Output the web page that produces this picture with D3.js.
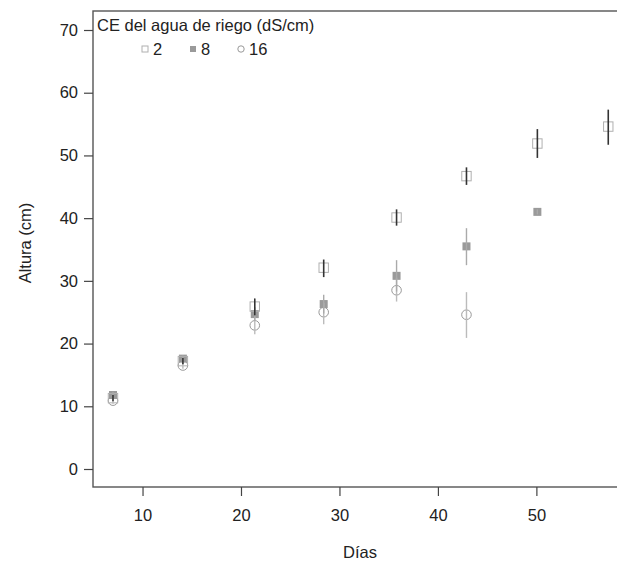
<!DOCTYPE html>
<html><head><meta charset="utf-8">
<script src="https://cdn.jsdelivr.net/npm/d3@7"></script>
<style>body{margin:0;background:#fff;overflow:hidden}svg{display:block}</style>
</head><body>
<svg id="c" width="617" height="563"></svg>
<script>
// Data
const days = [7, 14.1, 21.4, 28.4, 35.8, 42.9, 50.1, 57.3];
const ce2    = [11.3, 17.2, 25.9, 32.1, 40.1, 46.7, 51.9, 54.6];
const ce2Lo  = [10.8, 16.7, 24.5, 30.6, 38.8, 45.3, 49.6, 51.7];
const ce2Hi  = [11.8, 17.7, 27.2, 33.4, 41.4, 48.1, 54.2, 57.3];
const ce8    = [11.8, 17.6, 24.7, 26.3, 30.8, 35.5, 41.0, null];
const ce8Lo  = [11.3, 17.1, 23.6, 24.8, 28.3, 32.5, 40.6, null];
const ce8Hi  = [12.3, 18.1, 25.8, 27.8, 33.3, 38.4, 41.4, null];
const ce16   = [10.9, 16.5, 22.9, 25.0, 28.5, 24.6, null, null];
const ce16Lo = [10.4, 16.0, 21.5, 23.1, 26.7, 20.9, null, null];
const ce16Hi = [11.4, 17.0, 24.3, 26.5, 30.5, 28.2, null, null];
const xTicks = [10, 20, 30, 40, 50];
const yTicks = [0, 10, 20, 30, 40, 50, 60, 70];
const legendTitle = "CE del agua de riego (dS/cm)";
const legendLabels = ["2", "8", "16"];

const svg = d3.select("#c");
const font = "'Liberation Sans', Arial, sans-serif";
const fs = "16.5px";
const x = d3.scaleLinear().domain([4.97, 59.0]).range([93, 625]);
const y = d3.scaleLinear().domain([-2.87, 73.03]).range([487, 11]);

// box
svg.append("rect").attr("x", 93).attr("y", 11).attr("width", 532).attr("height", 476)
  .attr("fill", "none").attr("stroke", "#555").attr("stroke-width", 1.4);

// axes
const xa = svg.append("g").attr("transform", "translate(0,487)")
  .call(d3.axisBottom(x).tickValues(xTicks).tickSize(9).tickPadding(13).tickFormat(d3.format("d")));
const ya = svg.append("g").attr("transform", "translate(93,0)")
  .call(d3.axisLeft(y).tickValues(yTicks).tickSize(9).tickPadding(6).tickFormat(d3.format("d")));
[xa, ya].forEach(g => {
  g.select(".domain").remove();
  g.selectAll(".tick line").attr("stroke", "#444").attr("stroke-width", 1.2);
  g.selectAll(".tick text").attr("fill", "#222").style("font-family", font).style("font-size", fs);
});

svg.append("text").attr("x", 360).attr("y", 558).attr("text-anchor", "middle")
  .style("font-family", font).style("font-size", fs).attr("fill", "#222").text("Días");
svg.append("text").attr("transform", "translate(31,243) rotate(-90)").attr("text-anchor", "middle")
  .style("font-family", font).style("font-size", fs).attr("fill", "#222").text("Altura (cm)");

// series
const series = [
  {v: ce2, lo: ce2Lo, hi: ce2Hi, shape: "osq", bar: "#333", barW: 1.6},
  {v: ce8, lo: ce8Lo, hi: ce8Hi, shape: "fsq", bar: "#aaa", barW: 1.4},
  {v: ce16, lo: ce16Lo, hi: ce16Hi, shape: "circ", bar: "#bbb", barW: 1.4}
];
function drawSym(g, shape, cx, cy) {
  if (shape === "osq") g.append("rect").attr("x", cx - 4.7).attr("y", cy - 4.7).attr("width", 9.4).attr("height", 9.4)
      .attr("fill", "none").attr("stroke", "#b0b0b0").attr("stroke-width", 1);
  else if (shape === "fsq") g.append("rect").attr("x", cx - 4).attr("y", cy - 4).attr("width", 8).attr("height", 8)
      .attr("fill", "#9a9a9a");
  else g.append("circle").attr("cx", cx).attr("cy", cy).attr("r", 4.8)
      .attr("fill", "none").attr("stroke", "#999").attr("stroke-width", 1);
}
const pts = svg.append("g");
[2, 1, 0].forEach(si => {
  const s = series[si];
  days.forEach((d, i) => {
    if (s.v[i] == null) return;
    drawSym(pts, s.shape, x(d), y(s.v[i]));
  });
});
[2, 1, 0].forEach(si => {
  const s = series[si];
  days.forEach((d, i) => {
    if (s.v[i] == null) return;
    pts.append("line").attr("x1", x(d)).attr("x2", x(d)).attr("y1", y(s.lo[i])).attr("y2", y(s.hi[i]))
      .attr("stroke", s.bar).attr("stroke-width", s.barW);
  });
});

// legend
const lg = svg.append("g");
lg.append("text").attr("x", 97).attr("y", 31).style("font-family", font).style("font-size", fs)
  .attr("fill", "#222").text(legendTitle);
const lx = [145, 193, 241];
const shapes = ["osq", "fsq", "circ"];
legendLabels.forEach((t, i) => {
  const s = lg.append("g");
  if (shapes[i] === "osq") s.append("rect").attr("x", lx[i] - 3).attr("y", 46).attr("width", 6).attr("height", 6)
      .attr("fill", "none").attr("stroke", "#b0b0b0");
  else if (shapes[i] === "fsq") s.append("rect").attr("x", lx[i] - 3).attr("y", 46).attr("width", 6).attr("height", 6)
      .attr("fill", "#9a9a9a");
  else s.append("circle").attr("cx", lx[i]).attr("cy", 49).attr("r", 3.2).attr("fill", "none").attr("stroke", "#999");
  lg.append("text").attr("x", lx[i] + 8).attr("y", 55).style("font-family", font).style("font-size", fs)
    .attr("fill", "#222").text(t);
});
</script>
</body></html>
